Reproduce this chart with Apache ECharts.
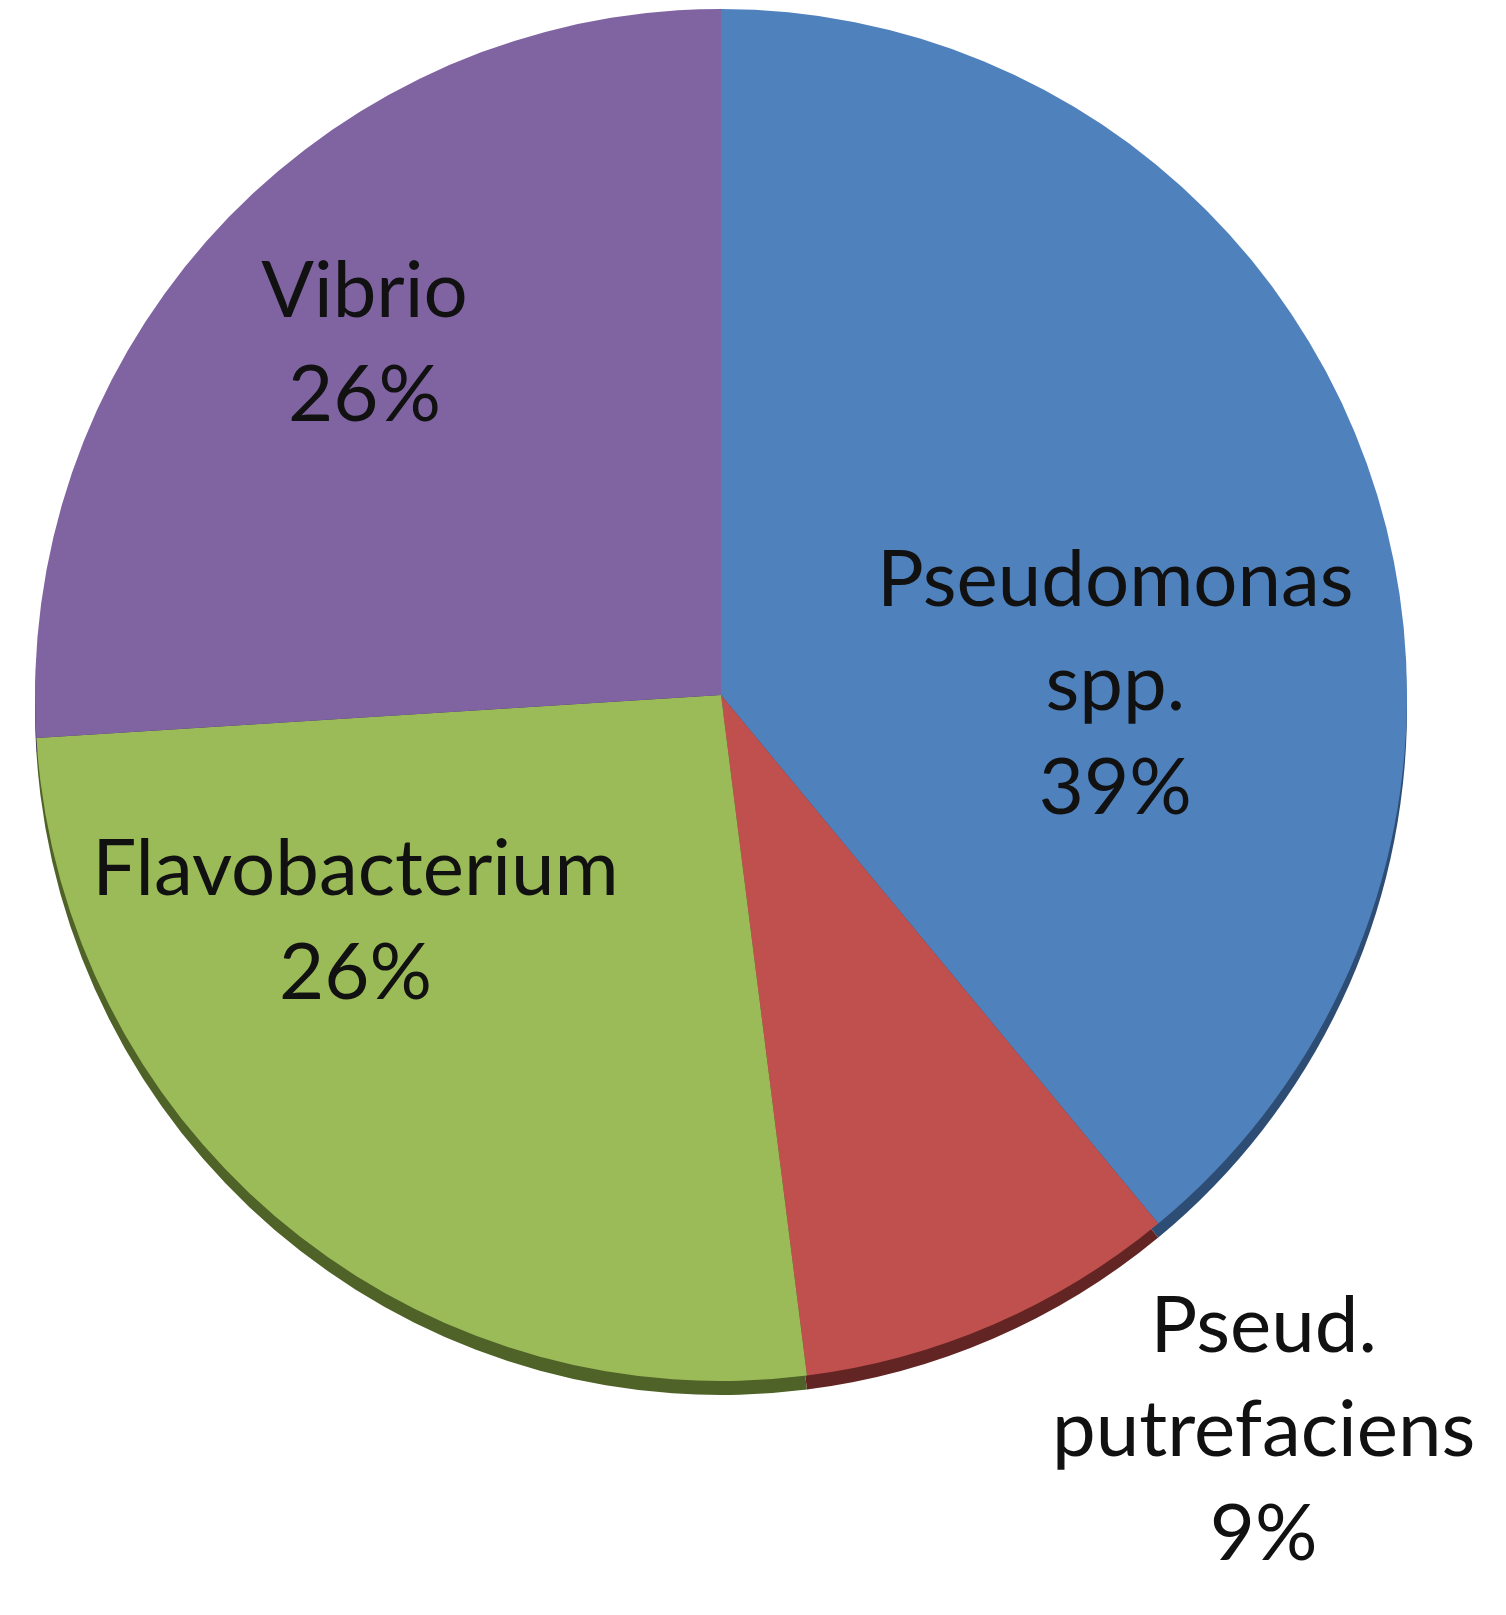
<!DOCTYPE html>
<html>
<head>
<meta charset="utf-8">
<script src="https://cdn.jsdelivr.net/npm/echarts@6/dist/echarts.min.js"></script>
<style>
  html, body { margin: 0; padding: 0; background: #fff; }
  #chart { width: 1506px; height: 1615px; }
</style>
</head>
<body>
<div id="chart"></div>
<script>
var names = ['Pseudomonas\nspp.', 'Pseud.\nputrefaciens', 'Flavobacterium', 'Vibrio'];
var values = [39, 9, 26, 26];
var colors = ['#4f81bd', '#c0504d', '#9bbb59', '#8064a2'];
var rimColors = ['#2e4d74', '#632523', '#4f6228', '#3f3151'];

// where each label sits: [angle in degrees, distance as a share of the radius]
var labelSpot = [[1.5, 0.575], [-53.6, 1.333], [211.8, 0.627], [135.4, 0.73]];

var cx = 721, cy = 695, R = 686;

function pieData(cols) {
  var out = [];
  for (var i = 0; i < names.length; i++) {
    out.push({ name: names[i], value: values[i], itemStyle: { color: cols[i] } });
  }
  return out;
}

var chart = echarts.init(document.getElementById('chart'));
chart.setOption({
  backgroundColor: '#fff',
  animation: false,
  series: [{
    // darker copy pushed down a little, gives the thin 3D edge
    type: 'pie',
    silent: true,
    center: [cx, cy + 14],
    radius: R,
    startAngle: 90,
    label: { show: false },
    labelLine: { show: false },
    itemStyle: { borderWidth: 0 },
    data: pieData(rimColors),
    z: 1
  }, {
    type: 'pie',
    center: [cx, cy],
    radius: R,
    startAngle: 90,
    itemStyle: { borderWidth: 0 },
    label: {
      show: true,
      position: 'inside',
      formatter: '{b}\n{d}%',
      color: '#111',
      fontFamily: 'Lato',
      fontSize: 78,
      lineHeight: 104,
      align: 'center'
    },
    labelLine: { show: false },
    labelLayout: function (p) {
      var s = labelSpot[p.dataIndex];
      var a = s[0] * Math.PI / 180;
      var tx = cx + Math.cos(a) * s[1] * R;
      var ty = cy - Math.sin(a) * s[1] * R;
      var r = p.labelRect;
      return { dx: tx - (r.x + r.width / 2), dy: ty - (r.y + r.height / 2) };
    },
    data: pieData(colors),
    z: 2
  }]
});
</script>
</body>
</html>
